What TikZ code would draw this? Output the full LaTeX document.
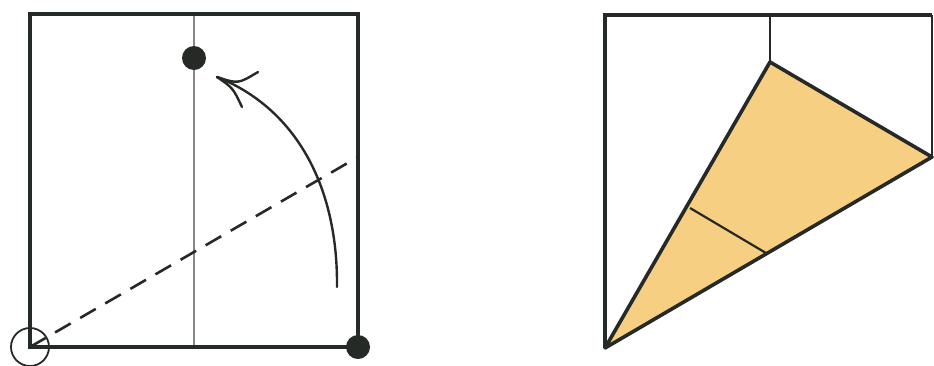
\documentclass[tikz,border=0pt]{standalone}
\usepackage{xcolor}
\definecolor{ink}{RGB}{38,42,38}
\definecolor{flap}{RGB}{247,207,130}
\definecolor{crease}{RGB}{135,135,135}
\begin{document}
\begin{tikzpicture}[x=1pt,y=-1pt,
  edge/.style={draw=ink,line width=4pt,line join=miter},
  thin/.style={draw=crease,line width=1.3pt},
  thinedge/.style={draw=ink,line width=1.6pt},
  valley/.style={draw=ink,line width=2.6pt,dash pattern=on 18pt off 11pt},
  arc/.style={draw=ink,line width=2.4pt,line cap=round},
  dot/.style={fill=ink},
  flapface/.style={fill=flap,draw=ink,line width=3.6pt,line join=round}]
\useasboundingbox (0,0) rectangle (934,365);
% left square
\coordinate (LTL) at (30,14);
\coordinate (LTR) at (358,14);
\coordinate (LBR) at (358,347);
\coordinate (LBL) at (30,347);
\coordinate (LCT) at (194,14);
\coordinate (LCB) at (194,347);
\coordinate (LF) at (358,157);
\coordinate (TD) at (194,58);
\coordinate (AS) at (337,287);
\coordinate (AT) at (217,77);
\draw[thin] (LCT) -- (LCB);
\draw[edge] (LTL) -- (LTR) -- (LBR) -- (LBL) -- cycle;
\draw[valley] (LBL) -- (LF);
\draw[ink,line width=1.8pt] (LBL) circle[radius=19];
\fill[dot] (TD) circle[radius=12];
\fill[dot] (LBR) circle[radius=12];
\draw[arc] (AS) .. controls (338,185) and (295,108) .. (AT);
\draw[arc] (AT) .. controls (238,84) .. (258,72);
\draw[arc] (AT) .. controls (233,88) .. (242,107);
% right square
\coordinate (RTL) at (605,15);
\coordinate (RTR) at (932,15);
\coordinate (RA) at (605,348);
\coordinate (RF) at (932,157);
\coordinate (RC) at (770,15);
\coordinate (RP) at (770,62);
\coordinate (Q1) at (690,208);
\coordinate (Q2) at (766,253);
\draw[thinedge] (RTR) -- (RF);
\draw[thinedge] (RC) -- (RP);
\draw[edge] (RA) -- (RTL) -- (RTR);
\draw[flapface] (RA) -- (RP) -- (RF) -- cycle;
\draw[ink,line width=2.2pt] (Q1) -- (Q2);
\end{tikzpicture}
\end{document}
